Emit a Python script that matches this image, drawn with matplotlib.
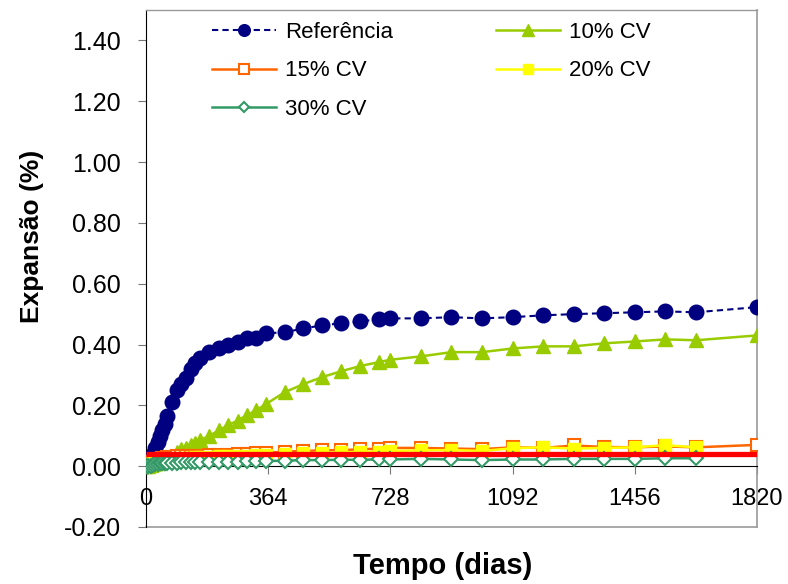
import matplotlib
matplotlib.use("Agg")
import matplotlib.pyplot as plt
from matplotlib.lines import Line2D

days = [0, 7, 14, 21, 28, 35, 42, 49, 56, 63, 77, 91, 105, 119, 133, 147, 161,
        189, 217, 245, 273, 301, 329, 357, 413, 469, 525, 581, 637, 693, 728,
        819, 910, 1001, 1092, 1183, 1274, 1365, 1456, 1547, 1638, 1820]

referencia = [0.0, 0.01, 0.025, 0.04, 0.06, 0.08, 0.10, 0.12, 0.14, 0.165, 0.21,
              0.25, 0.27, 0.29, 0.32, 0.34, 0.355, 0.375, 0.39, 0.40, 0.407, 0.42,
              0.42, 0.437, 0.44, 0.453, 0.463, 0.47, 0.476, 0.483, 0.486, 0.486,
              0.49, 0.486, 0.49, 0.496, 0.50, 0.503, 0.506, 0.509, 0.506, 0.523]
cv10 = [0.0, 0.0, 0.005, 0.008, 0.01, 0.012, 0.015, 0.02, 0.022, 0.025, 0.035,
        0.045, 0.055, 0.06, 0.07, 0.075, 0.085, 0.10, 0.118, 0.135, 0.15, 0.168,
        0.184, 0.204, 0.243, 0.27, 0.293, 0.312, 0.329, 0.342, 0.35, 0.361,
        0.375, 0.375, 0.387, 0.394, 0.394, 0.404, 0.41, 0.417, 0.414, 0.43]
cv15 = [0.0, 0.005, 0.01, 0.015, 0.02, 0.022, 0.025, 0.027, 0.028, 0.03, 0.03,
        0.032, 0.033, 0.033, 0.034, 0.035, 0.035, 0.036, 0.037, 0.038, 0.04, 0.04,
        0.042, 0.044, 0.048, 0.05, 0.052, 0.053, 0.055, 0.058, 0.06, 0.06,
        0.058, 0.056, 0.062, 0.06, 0.068, 0.063, 0.062, 0.065, 0.062, 0.07]
cv20 = [0.0, 0.003, 0.006, 0.01, 0.012, 0.015, 0.017, 0.019, 0.02, 0.022, 0.024,
        0.025, 0.026, 0.027, 0.028, 0.029, 0.03, 0.031, 0.032, 0.033, 0.034, 0.035,
        0.036, 0.037, 0.04, 0.042, 0.044, 0.045, 0.047, 0.048, 0.05, 0.052,
        0.053, 0.05, 0.059, 0.062, 0.058, 0.06, 0.062, 0.069, 0.062]
cv30 = [0.0, 0.0, 0.002, 0.004, 0.006, 0.008, 0.009, 0.01, 0.011, 0.011, 0.012,
        0.012, 0.013, 0.013, 0.013, 0.014, 0.014, 0.014, 0.015, 0.015, 0.015, 0.016,
        0.016, 0.017, 0.018, 0.02, 0.02, 0.021, 0.021, 0.022, 0.022, 0.024,
        0.022, 0.02, 0.022, 0.022, 0.024, 0.024, 0.024, 0.026, 0.026]
limite_days = [0, 1820]
limite = [0.04, 0.04]

x_ticks = [0, 364, 728, 1092, 1456, 1820]
y_ticks = [-0.20, 0.00, 0.20, 0.40, 0.60, 0.80, 1.00, 1.20, 1.40]

plt.rcParams['font.family'] = ['Liberation Sans', 'DejaVu Sans']

fig = plt.figure(figsize=(7.88, 5.84), dpi=100)
ax = fig.add_axes([146/788, 1-527/584, (757-146)/788, (527-10)/584])

ax.plot(days, referencia, color='#000080', ls=(0, (3, 2)), lw=1.5, marker='o',
        ms=10.5, mfc='#000080', mec='#000080', label='Referência', zorder=3)
ax.plot(days, cv10, color='#99CC00', lw=1.8, marker='^', ms=10,
        mfc='#99CC00', mec='#99CC00', label='10% CV', zorder=3)
ax.plot(days, cv15, color='#FF6600', lw=1.8, marker='s', ms=8.5,
        mfc='white', mec='#FF6600', mew=1.5, label='15% CV', zorder=3)
ax.plot(days[:len(cv20)], cv20, color='#FFFF00', lw=1.8, marker='s', ms=8.5,
        mfc='#FFFF00', mec='#FFFF00', label='20% CV', zorder=3)
ax.plot(days[:len(cv30)], cv30, color='#339966', lw=1.8, marker='D', ms=7,
        mfc='white', mec='#339966', mew=1.5, label='30% CV', zorder=3)
ax.plot(limite_days, limite, color='#FF0000', lw=3.8, zorder=4, solid_capstyle='butt')

ax.set_xlim(0, 1820)
ax.set_ylim(-0.2, 1.5)
ax.set_xticks(x_ticks)
ax.set_yticks(y_ticks)
ax.set_yticklabels([f"{v:.2f}" for v in y_ticks])
ax.set_xticklabels([str(v) for v in x_ticks], family=['Liberation Sans Narrow', 'Liberation Sans'])

ax.spines['bottom'].set_position(('data', 0))
ax.spines['bottom'].set_color('black')
ax.spines['left'].set_color('black')
ax.spines['top'].set_color('#999999')
ax.spines['right'].set_color('#999999')
ax.spines['right'].set_linewidth(1.2)
ax.spines['top'].set_linewidth(1.0)
ax.add_line(Line2D([0, 1], [0, 0], transform=ax.transAxes, color='#999999', lw=1.2, clip_on=False))

ax.tick_params(axis='y', direction='out', length=6, color='#777777', labelsize=18, pad=12)
ax.tick_params(axis='x', direction='out', length=6, color='#777777', labelsize=17, pad=10)

ax.set_ylabel('Expansão (%)', fontsize=19, fontweight='bold')
ax.yaxis.set_label_coords((44-146)/611, (527-236)/517)
ax.set_xlabel('Tempo (dias)', fontsize=21, fontweight='bold')
ax.xaxis.set_label_coords((443-146)/611, (527-552)/517)

handles, labels = ax.get_legend_handles_labels()
order = [0, 2, 4, 1, 3]
leg = ax.legend([handles[i] for i in order], [labels[i] for i in order], ncol=2,
                loc='upper left', bbox_to_anchor=(212/788, 1-22/584), bbox_transform=fig.transFigure,
                frameon=False, fontsize=16, handlelength=2.9, handletextpad=0.4,
                columnspacing=4.6, labelspacing=0.78, borderpad=0, borderaxespad=0, markerscale=0.8)

fig.savefig('out.png', dpi=100)
